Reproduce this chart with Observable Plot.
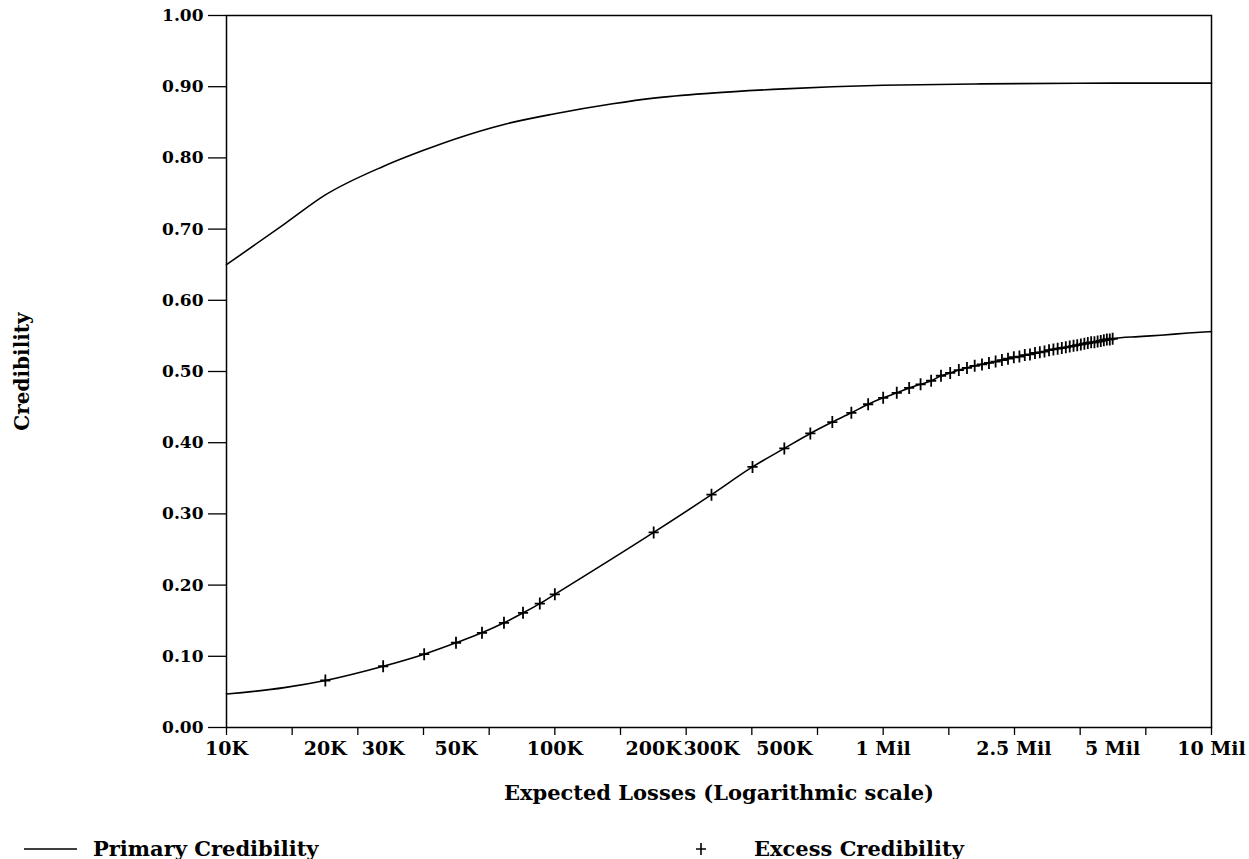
<!DOCTYPE html>
<html>
<head>
<meta charset="utf-8">
<script src="https://cdn.jsdelivr.net/npm/d3@7"></script>
<script src="https://cdn.jsdelivr.net/npm/@observablehq/plot@0.6"></script>
<style>
  html, body { margin: 0; padding: 0; background: #fff; }
  #chart { position: absolute; left: 0; top: 0; }
  .lg { position: absolute; font: bold 21px "DejaVu Serif", serif; line-height: 24px; color: #000; white-space: nowrap; }
  .lgsym { position: absolute; }
</style>
</head>
<body>
<div id="chart"></div>
<svg class="lgsym" style="left:24px;top:843px" width="54" height="12"><line x1="0" y1="6" x2="53" y2="6" stroke="#000" stroke-width="1.6"/></svg>
<div class="lg" style="left:93px;top:837px">Primary Credibility</div>
<svg class="lgsym" style="left:694px;top:842px" width="14" height="14"><path d="M7,1V13M2,7H12" stroke="#000" stroke-width="1.6" fill="none"/></svg>
<div class="lg" style="left:754px;top:837px">Excess Credibility</div>
<script>
// ---- data ----
const primaryLoss = [10000, 15000, 20000, 30000, 40000, 50000, 70000, 100000, 150000, 200000, 300000, 500000, 700000, 1000000, 2000000, 5000000, 10000000];
const primaryCred = [0.650, 0.707, 0.748, 0.788, 0.811, 0.827, 0.847, 0.862, 0.876, 0.884, 0.891, 0.897, 0.900, 0.902, 0.904, 0.905, 0.905];

// excess curve ends (beyond the marked points)
const excessStartLoss = [10000, 15000];
const excessStartCred = [0.047, 0.056];
const excessEndLoss = [6000000, 7000000, 8500000, 10000000];
const excessEndCred = [0.549, 0.551, 0.554, 0.556];

// marked excess points
const crossLoss = [20000, 30000, 40000, 50000, 60000, 70000, 80000, 90000, 100000,
  200000, 300000, 400000, 500000, 600000, 700000, 800000, 900000,
  1000000, 1100000, 1200000, 1300000, 1400000, 1500000, 1600000, 1700000, 1800000, 1900000,
  2000000, 2100000, 2200000, 2300000, 2400000, 2500000, 2600000, 2700000, 2800000, 2900000,
  3000000, 3100000, 3200000, 3300000, 3400000, 3500000, 3600000, 3700000, 3800000, 3900000,
  4000000, 4100000, 4200000, 4300000, 4400000, 4500000, 4600000, 4700000, 4800000, 4900000, 5000000];
const crossCred = [0.066, 0.086, 0.103, 0.119, 0.133, 0.147, 0.161, 0.174, 0.187,
  0.274, 0.327, 0.366, 0.392, 0.413, 0.429, 0.442, 0.454,
  0.463, 0.470, 0.477, 0.482, 0.487, 0.494, 0.498, 0.502, 0.505, 0.508,
  0.510, 0.512, 0.514, 0.516, 0.518, 0.520, 0.521, 0.523, 0.524, 0.526,
  0.527, 0.528, 0.530, 0.531, 0.532, 0.533, 0.534, 0.535, 0.536, 0.537,
  0.538, 0.539, 0.540, 0.541, 0.541, 0.542, 0.543, 0.544, 0.545, 0.545, 0.546];

// axis ticks and labels
const yTicks = [0, 0.1, 0.2, 0.3, 0.4, 0.5, 0.6, 0.7, 0.8, 0.9, 1.0];
const xTickMarks = [10000, 15849, 25119, 39811, 63096, 100000, 158489, 251189, 398107, 630957,
  1000000, 1584893, 2511886, 3981072, 6309573, 10000000];
const xLabelValues = [10000, 20000, 30000, 50000, 100000, 200000, 300000, 500000, 1000000, 2500000, 5000000, 10000000];
const xLabelText = ["10K", "20K", "30K", "50K", "100K", "200K", "300K", "500K", "1 Mil", "2.5 Mil", "5 Mil", "10 Mil"];
const xTitle = "Expected Losses (Logarithmic scale)";
const yTitle = "Credibility";

// ---- build tables ----
const primary = primaryLoss.map((x, i) => ({x, y: primaryCred[i]}));
const crosses = crossLoss.map((x, i) => ({x, y: crossCred[i]}));
const excessLine = [
  ...excessStartLoss.map((x, i) => ({x, y: excessStartCred[i]})),
  ...crosses,
  ...excessEndLoss.map((x, i) => ({x, y: excessEndCred[i]}))
];
const xLabels = xLabelValues.map((x, i) => ({x, t: xLabelText[i]}));

const thinPlus = {
  draw(context, size) {
    const r = Math.sqrt(size / Math.PI);
    context.moveTo(-r * 0.85, 0); context.lineTo(r * 0.85, 0);
    context.moveTo(0, -r); context.lineTo(0, r);
  }
};

const FONT = "'DejaVu Serif', serif";
const W = 1249, H = 815;
const chart = Plot.plot({
  width: W,
  height: H,
  marginLeft: 226,
  marginRight: 38,
  marginTop: 15,
  marginBottom: H - 727,
  style: {fontFamily: FONT, fontSize: "17px", fontWeight: "bold", color: "#000", background: "#fff"},
  x: {type: "log", domain: [10000, 10000000]},
  y: {domain: [0, 1]},
  marks: [
    Plot.axisY({ticks: yTicks, tickFormat: d3.format(".2f"), tickSize: 18, tickPadding: 5, label: null, strokeWidth: 1.3}),
    Plot.axisX({ticks: xTickMarks, tickFormat: () => "", tickSize: 8, label: null, strokeWidth: 1.3}),
    Plot.text(xLabels, {x: "x", text: "t", frameAnchor: "bottom", lineAnchor: "middle", dy: 21,
      fontFamily: FONT, fontWeight: "bold", fontSize: 19}),
    Plot.text([xTitle], {frameAnchor: "bottom", lineAnchor: "middle", dy: 66,
      fontFamily: FONT, fontWeight: "bold", fontSize: 21}),
    Plot.text([yTitle], {frameAnchor: "left", textAnchor: "middle", lineAnchor: "middle", dx: -204, rotate: -90,
      fontFamily: FONT, fontWeight: "bold", fontSize: 20}),
    Plot.frame({stroke: "#000", strokeWidth: 1.5}),
    Plot.line(primary, {x: "x", y: "y", stroke: "#000", strokeWidth: 1.6, curve: "monotone-x"}),
    Plot.line(excessLine, {x: "x", y: "y", stroke: "#000", strokeWidth: 1.6, curve: "monotone-x"}),
    Plot.dot(crosses, {x: "x", y: "y", symbol: thinPlus, r: 6, stroke: "#000", fill: "none", strokeWidth: 1.8})
  ]
});
document.getElementById("chart").appendChild(chart);
</script>
</body>
</html>
